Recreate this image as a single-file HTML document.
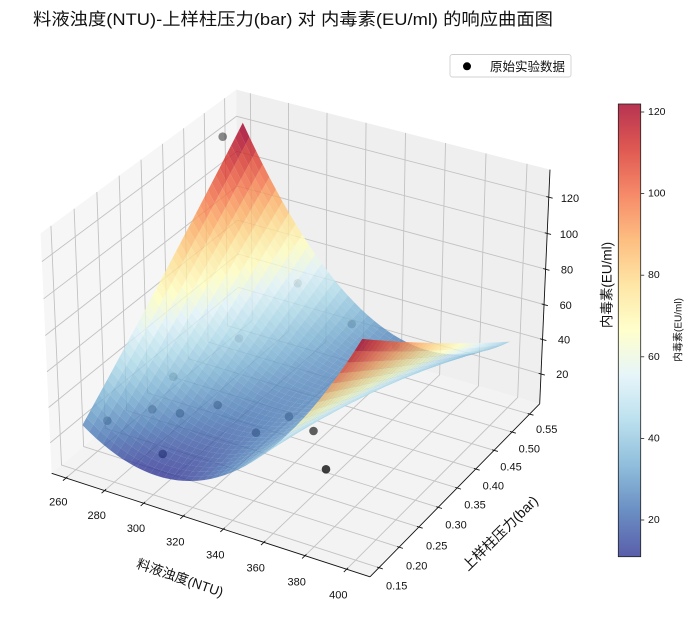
<!DOCTYPE html>
<html><head><meta charset="utf-8">
<style>
html,body{margin:0;padding:0;background:#fff;width:692px;height:623px;overflow:hidden;}
svg{display:block;}
text{font-family:"Liberation Sans","Noto Sans CJK SC",sans-serif;fill:#111;}
</style></head>
<body>
<svg id="s" width="692" height="623" viewBox="0 0 692 623" xmlns="http://www.w3.org/2000/svg">
<defs>
<linearGradient id="cb" x1="0" y1="1" x2="0" y2="0">
<stop offset="0" stop-color="#5a5eaa"/>
<stop offset="0.1" stop-color="#6a8ec3"/>
<stop offset="0.2" stop-color="#8fbddb"/>
<stop offset="0.3" stop-color="#bbe0ee"/>
<stop offset="0.4" stop-color="#e6f5f9"/>
<stop offset="0.5" stop-color="#ffffcc"/>
<stop offset="0.6" stop-color="#fee6a6"/>
<stop offset="0.7" stop-color="#fdbe81"/>
<stop offset="0.8" stop-color="#f68a69"/>
<stop offset="0.9" stop-color="#df5952"/>
<stop offset="1" stop-color="#b73351"/>
</linearGradient>
</defs>
<g id="panes"></g>
<g id="grid" fill="none" stroke="#c2c2c2" stroke-width="0.9"></g>
<g id="axes" fill="none" stroke="#111" stroke-width="0.9"></g>
<g id="pts" fill="#000"></g>
<g id="surf" fill-opacity="0.8"></g>

<!-- title -->
<text x="33" y="25" font-size="17" textLength="520" lengthAdjust="spacingAndGlyphs">料液浊度(NTU)-上样柱压力(bar) 对 内毒素(EU/ml) 的响应曲面图</text>

<!-- legend -->
<rect x="450" y="54.5" width="121" height="22.5" rx="2.5" fill="#fff" fill-opacity="0.8" stroke="#d0d0d0" stroke-width="0.9"/>
<circle cx="467" cy="66.3" r="4" fill="#000"/>
<text x="490" y="70.8" font-size="12.5">原始实验数据</text>

<!-- x tick labels -->
<g font-size="11" text-anchor="middle" dominant-baseline="central">
<text x="58.3" y="502.7">260</text>
<text x="96.7" y="516">280</text>
<text x="136" y="529">300</text>
<text x="175.3" y="542.3">320</text>
<text x="215.3" y="555.7">340</text>
<text x="255.7" y="568.7">360</text>
<text x="296.7" y="582.3">380</text>
<text x="338.3" y="595.7">400</text>
</g>
<!-- y tick labels -->
<g font-size="11" text-anchor="middle" dominant-baseline="central">
<text x="396.7" y="586.7">0.15</text>
<text x="416.7" y="566.7">0.20</text>
<text x="436.7" y="546.7">0.25</text>
<text x="456" y="525.7">0.30</text>
<text x="475" y="505.7">0.35</text>
<text x="493.3" y="486.7">0.40</text>
<text x="511" y="467.7">0.45</text>
<text x="529.3" y="449.3">0.50</text>
<text x="546.7" y="430">0.55</text>
</g>
<!-- z tick labels -->
<g font-size="11" text-anchor="middle" dominant-baseline="central">
<text x="570" y="199">120</text>
<text x="569" y="235">100</text>
<text x="567" y="270.7">80</text>
<text x="565.7" y="306">60</text>
<text x="564" y="340.7">40</text>
<text x="562.3" y="375">20</text>
</g>

<!-- axis labels -->
<text transform="translate(180,578) rotate(19)" font-size="13.5" text-anchor="middle" dominant-baseline="central">料液浊度(NTU)</text>
<text transform="translate(500,533) rotate(-44.5)" font-size="14" text-anchor="middle" dominant-baseline="central">上样柱压力(bar)</text>
<text transform="translate(607,285) rotate(-90)" font-size="13.5" text-anchor="middle" dominant-baseline="central">内毒素(EU/ml)</text>

<!-- colorbar -->
<rect x="618.3" y="104" width="22.4" height="452.7" fill="url(#cb)" stroke="#222" stroke-width="0.8"/>
<g stroke="#222" stroke-width="0.8">
<line x1="640.7" y1="112" x2="644.2" y2="112"/>
<line x1="640.7" y1="193.6" x2="644.2" y2="193.6"/>
<line x1="640.7" y1="275.2" x2="644.2" y2="275.2"/>
<line x1="640.7" y1="356.8" x2="644.2" y2="356.8"/>
<line x1="640.7" y1="438.4" x2="644.2" y2="438.4"/>
<line x1="640.7" y1="520" x2="644.2" y2="520"/>
</g>
<g font-size="10.5" dominant-baseline="central">
<text x="648" y="112">120</text>
<text x="648" y="193.6">100</text>
<text x="648" y="275.2">80</text>
<text x="648" y="356.8">60</text>
<text x="648" y="438.4">40</text>
<text x="648" y="520">20</text>
</g>
<text transform="translate(679,330) rotate(-90)" font-size="10" text-anchor="middle" dominant-baseline="central">内毒素(EU/ml)</text>
</svg>
<script>
(function(){
const XL=[252.5,411.1], YL=[0.128,0.579], ZL=[2.44,135.0];
const A=[8/7,8/7,6/7];
const U=[0.8660254,0.5,0], V=[-0.25,0.4330127,0.8660254], W=[0.4330127,-0.75,0.5];
function P(x,y,z){
  const dx=((x-XL[0])/(XL[1]-XL[0])-0.5)*A[0];
  const dy=((y-YL[0])/(YL[1]-YL[0])-0.5)*A[1];
  const dz=((z-ZL[0])/(ZL[1]-ZL[0])-0.5)*A[2];
  const den=10-(W[0]*dx+W[1]*dy+W[2]*dz);
  return [300+3192*(U[0]*dx+U[1]*dy)/den, 322-3192*(V[0]*dx+V[1]*dy+V[2]*dz)/den, den];
}
function f2(v){return v.toFixed(2);}
function poly(pts,close){return 'M'+pts.map(p=>f2(p[0])+','+f2(p[1])).join('L')+(close?'Z':'');}
const x0=XL[0],x1=XL[1],y0=YL[0],y1=YL[1],z0=ZL[0],z1=ZL[1];

let h='';
h+='<path d="'+poly([P(x0,y0,z0),P(x0,y1,z0),P(x0,y1,z1),P(x0,y0,z1)],1)+'" fill="#f6f6f6"/>';
h+='<path d="'+poly([P(x0,y1,z0),P(x1,y1,z0),P(x1,y1,z1),P(x0,y1,z1)],1)+'" fill="#efefef"/>';
h+='<path d="'+poly([P(x0,y0,z0),P(x1,y0,z0),P(x1,y1,z0),P(x0,y1,z0)],1)+'" fill="#f3f3f3"/>';
document.getElementById('panes').innerHTML=h;

h='';
for(let x=260;x<=400;x+=20) h+='<path d="'+poly([P(x,y0,z0),P(x,y1,z0),P(x,y1,z1)])+'"/>';
for(let k=0;k<=8;k++){const y=0.15+0.05*k; h+='<path d="'+poly([P(x1,y,z0),P(x0,y,z0),P(x0,y,z1)])+'"/>';}
for(let z=20;z<=120;z+=20) h+='<path d="'+poly([P(x0,y0,z),P(x0,y1,z),P(x1,y1,z)])+'"/>';
document.getElementById('grid').innerHTML=h;

h='';
h+='<path d="'+poly([P(x0,y0,z0),P(x1,y0,z0)])+'"/>';
h+='<path d="'+poly([P(x1,y0,z0),P(x1,y1,z0)])+'"/>';
h+='<path d="'+poly([P(x1,y1,z0),P(x1,y1,z1)])+'"/>';
function tick(p,q,a,b){const dx=q[0]-p[0],dy=q[1]-p[1];const L=Math.hypot(dx,dy);const ux=dx/L,uy=dy/L;
  return '<path d="M'+f2(p[0]-a*ux)+','+f2(p[1]-a*uy)+'L'+f2(p[0]+b*ux)+','+f2(p[1]+b*uy)+'"/>';}
for(let x=260;x<=400;x+=20) h+=tick(P(x,y0,z0),P(x,y0-0.05,z0),2,4);
for(let k=0;k<=8;k++){const y=0.15+0.05*k; h+=tick(P(x1,y,z0),P(x1+15,y,z0),2,4);}
for(let z=20;z<=120;z+=20) h+=tick(P(x1,y1,z),P(x1+15,y1,z),2.5,4);
document.getElementById('axes').innerHTML=h;

const pts=[[222.7,136.7,0.45],[297.7,283.3,0.35],[351.7,324,0.45],[396,346,0.6],[239,338.5,0.3],
[173.3,376.7,0.4],[107.3,420.7,0.55],[152.3,409.3,0.55],[180,413.3,0.6],[217.7,405,0.6],
[162.7,454,0.75],[256,432.7,0.65],[289,416.7,0.6],[313.5,431,0.62],[326,469.3,0.75]];
h='';
pts.forEach(p=>{h+='<circle cx="'+p[0]+'" cy="'+p[1]+'" r="4.3" fill-opacity="'+p[2]+'"/>';});
document.getElementById('pts').innerHTML=h;

function F(x,y){return 11.0+0.01086*(x-299.9)*(x-299.9)+(y-0.16)*(1078.8+40*(y+0.16)-3.274*x);}
const N=40, SX0=262, SX1=400, SY0=0.16, SY1=0.55;
const G=[];
for(let i=0;i<=N;i++){G.push([]);for(let j=0;j<=N;j++){
  const x=SX0+(SX1-SX0)*i/N, y=SY0+(SY1-SY0)*j/N, z=F(x,y);
  const p=P(x,y,z); G[i].push([p[0],p[1],p[2],z]);}}
const Q=[];let zmn=1e9,zmx=-1e9;
for(let i=0;i<N;i++)for(let j=0;j<N;j++){
  const a=G[i][j],b=G[i+1][j],c=G[i+1][j+1],d=G[i][j+1];
  const az=(a[3]+b[3]+c[3]+d[3])/4, dep=(a[2]+b[2]+c[2]+d[2])/4;
  zmn=Math.min(zmn,az);zmx=Math.max(zmx,az);
  Q.push({p:[a,b,c,d],z:az,d:dep});}
Q.sort((m,n)=>n.d-m.d);
const CM=['#313695','#4575b4','#74add1','#abd9e9','#e0f3f8','#ffffbf','#fee090','#fdae61','#f46d43','#d73027','#a50026'].map(s=>[parseInt(s.substr(1,2),16),parseInt(s.substr(3,2),16),parseInt(s.substr(5,2),16)]);
function cm(t){t=Math.max(0,Math.min(1,t));const s=t*10;const i=Math.min(9,Math.floor(s));const fr=s-i;
  const a=CM[i],b=CM[i+1];return 'rgb('+Math.round(a[0]+(b[0]-a[0])*fr)+','+Math.round(a[1]+(b[1]-a[1])*fr)+','+Math.round(a[2]+(b[2]-a[2])*fr)+')';}
h='';
Q.forEach(q=>{h+='<path d="'+poly(q.p,1)+'" fill="'+cm((q.z-zmn)/(zmx-zmn))+'"/>';});
document.getElementById('surf').innerHTML=h;
})();
</script>
</body></html>
